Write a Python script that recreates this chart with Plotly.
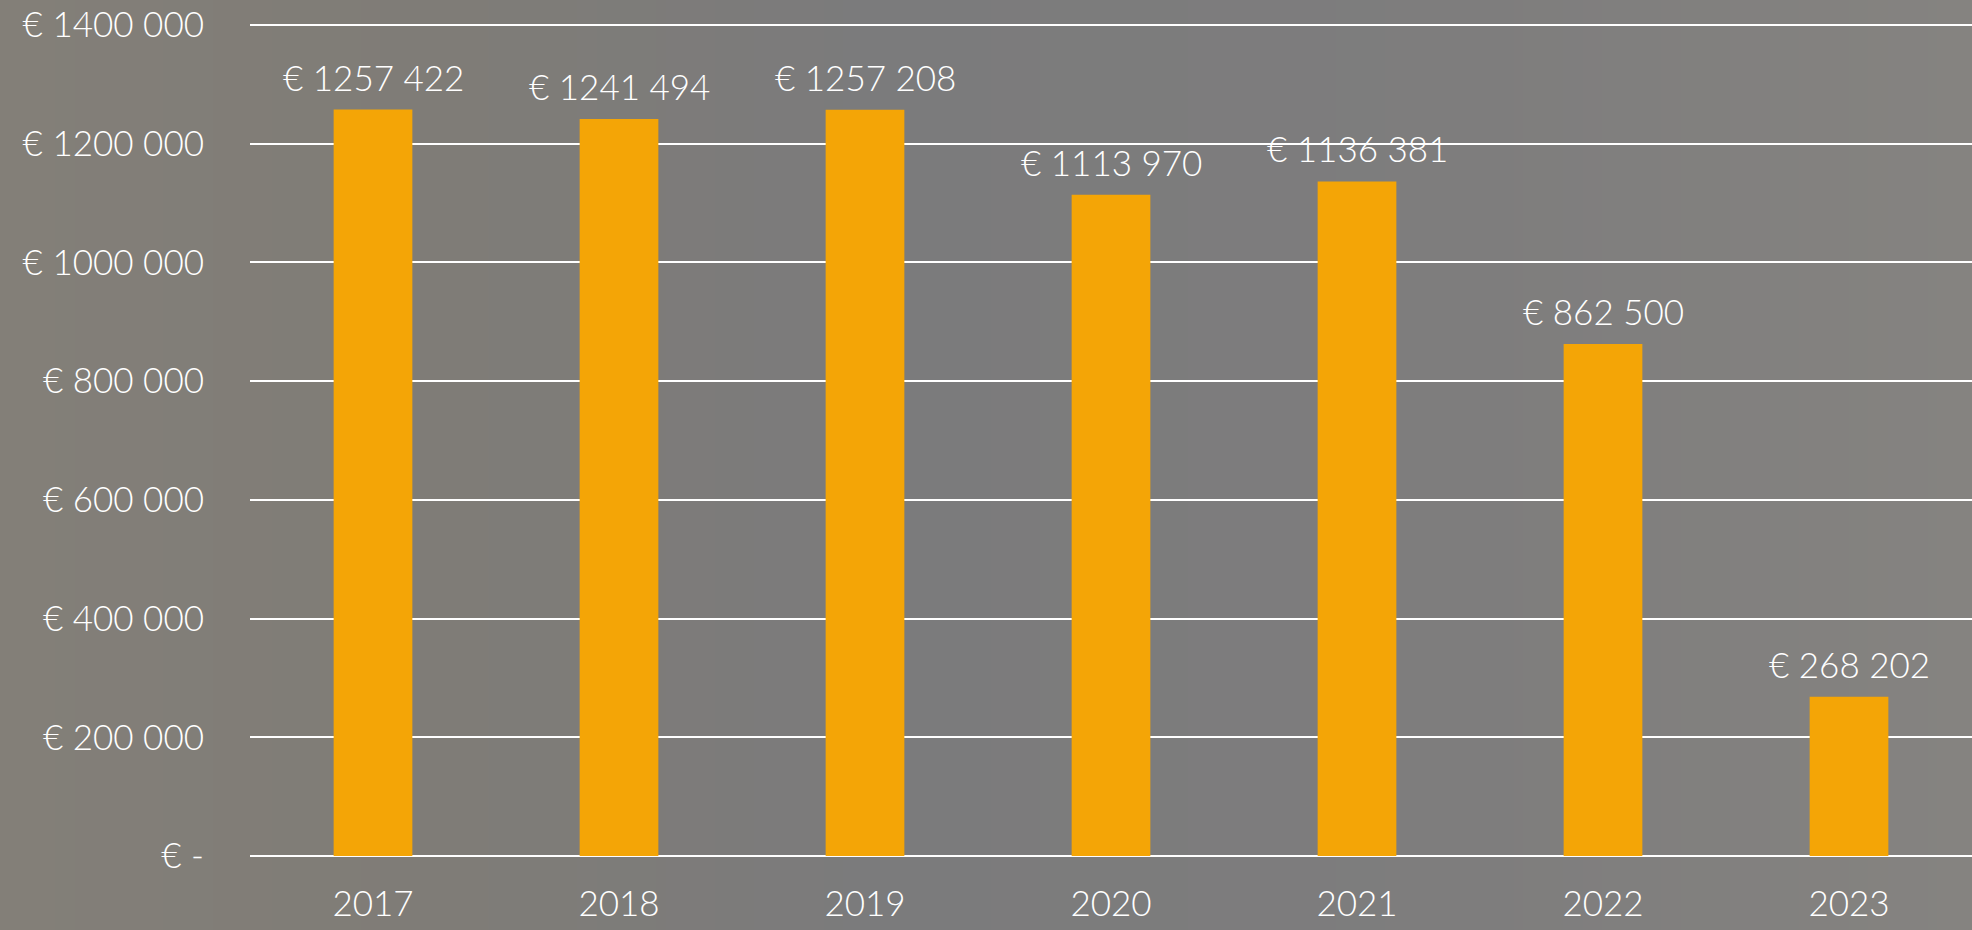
import base64
import struct
import zlib

import plotly.graph_objects as go

years = ["2017", "2018", "2019", "2020", "2021", "2022", "2023"]
values = [1257422, 1241494, 1257208, 1113970, 1136381, 862500, 268202]
tick_vals = [0, 200000, 400000, 600000, 800000, 1000000, 1200000, 1400000]
tick_text = ["€ -", "€ 200 000", "€ 400 000", "€ 600 000", "€ 800 000",
             "€ 1000 000", "€ 1200 000", "€ 1400 000"]


def fmt(v):
    return f"€ {v // 1000} {v % 1000:03d}"


FONT = "Lato"
FS = 35
BG = "#7c7c7c"
BAR = "#F4A506"
W, H = 1972, 930
ML, MR, MT, MB = 250, 0, 22, 74

# subtle concrete-like horizontal tint for the backdrop
stops = [(0.0, (0x83, 0x7f, 0x78)), (0.22, (0x7f, 0x7c, 0x77)), (0.45, (0x7b, 0x7b, 0x7c)),
         (0.75, (0x7e, 0x7d, 0x7d)), (1.0, (0x85, 0x83, 0x80))]


def lerp_color(t):
    for (t0, c0), (t1, c1) in zip(stops, stops[1:]):
        if t0 <= t <= t1:
            f = (t - t0) / (t1 - t0)
            return tuple(int(round(a + (b - a) * f)) for a, b in zip(c0, c1))
    return stops[-1][1]


def make_png(w, h):
    row = b"".join(bytes(lerp_color(x / (w - 1))) for x in range(w))
    raw = b"".join(b"\x00" + row for _ in range(h))

    def chunk(tag, data):
        c = struct.pack(">I", len(data)) + tag + data
        return c + struct.pack(">I", zlib.crc32(tag + data) & 0xFFFFFFFF)

    png = b"\x89PNG\r\n\x1a\n" + chunk(b"IHDR", struct.pack(">IIBBBBB", w, h, 8, 2, 0, 0, 0))
    png += chunk(b"IDAT", zlib.compress(raw, 9)) + chunk(b"IEND", b"")
    return "data:image/png;base64," + base64.b64encode(png).decode()


pw, ph = W - ML - MR, H - MT - MB

fig = go.Figure()
fig.add_trace(go.Bar(x=years, y=values, marker=dict(color=BAR, line=dict(width=0)),
                     hoverinfo="skip"))

for i, v in enumerate(values):
    fig.add_annotation(x=i, y=v, text=fmt(v), showarrow=False, yanchor="bottom",
                       yshift=10, font=dict(family=FONT, size=FS, color="white", weight=300))

fig.add_layout_image(source=make_png(200, 4), xref="paper", yref="paper",
                     x=-ML / pw, y=1 + MT / ph, sizex=W / pw, sizey=H / ph,
                     xanchor="left", yanchor="top", sizing="stretch", layer="below")

fig.update_layout(
    width=W, height=H,
    margin=dict(l=ML, r=MR, t=MT, b=MB),
    paper_bgcolor=BG, plot_bgcolor="rgba(0,0,0,0)",
    bargap=0.68,
    showlegend=False,
    font=dict(family=FONT, size=FS, color="white", weight=300),
)
fig.update_xaxes(type="category", range=[-0.5, len(years) - 0.5],
                 showgrid=False, showline=False, zeroline=False,
                 ticks="outside", ticklen=17, tickcolor="rgba(0,0,0,0)",
                 tickfont=dict(family=FONT, size=FS, color="white", weight=300))
fig.update_yaxes(range=[0, 1405000], tickvals=tick_vals, ticktext=tick_text,
                 showgrid=True, gridcolor="white", gridwidth=2,
                 zeroline=True, zerolinecolor="white", zerolinewidth=2,
                 showline=False, ticks="outside", ticklen=38, tickcolor="rgba(0,0,0,0)",
                 tickfont=dict(family=FONT, size=FS, color="white", weight=300))

fig.write_html("out.html", config={"displayModeBar": False})
with open("out.html", encoding="utf-8") as f:
    html = f.read()
html = html.replace("<body>", '<body style="margin:0;padding:0;overflow:hidden;background:%s">' % BG, 1)
with open("out.html", "w", encoding="utf-8") as f:
    f.write(html)
